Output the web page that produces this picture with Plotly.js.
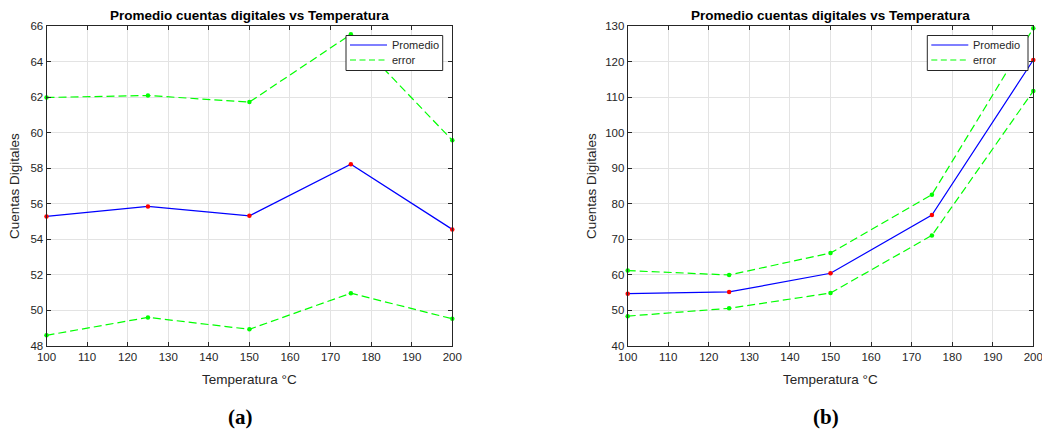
<!DOCTYPE html>
<html>
<head>
<meta charset="utf-8">
<script src="https://cdn.plot.ly/plotly-3.0.1.min.js"></script>
<style>
  html, body { margin: 0; padding: 0; background: #fff; }
  #chart { width: 1042px; height: 431px; }
</style>
</head>
<body>
<div id="chart"></div>
<script>
// Temperatures (°C) shared by both panels
const temps = [100, 125, 150, 175, 200];

// Panel (a): mean digital counts and error band
const promA = [55.29, 55.85, 55.32, 58.22, 54.56];
const errUpA = [61.98, 62.09, 61.72, 65.53, 59.57];
const errLoA = [48.60, 49.61, 48.94, 50.97, 49.53];

// Panel (b): mean digital counts and error band
const promB = [54.72, 55.20, 60.45, 76.85, 120.44];
const errUpB = [61.20, 59.98, 66.15, 82.56, 129.34];
const errLoB = [48.40, 50.60, 54.90, 71.10, 111.70];

const titleText = 'Promedio cuentas digitales vs Temperatura';
const xTitle = 'Temperatura °C';
const yTitle = 'Cuentas Digitales';
const panelLabels = ['(a)', '(b)'];
const legendNames = ['Promedio', 'error'];

const W = 1042, H = 431;
const px = v => v / W;
const py = v => 1 - v / H;

const BLUE = '#0000ff', GREEN = '#00ff00', RED = '#ff0000';
const DASH = '8px,4px';
const SANS = 'Liberation Sans, Arial, Helvetica, sans-serif';

function panelTraces(xa, ya, prom, up, lo) {
  return [
    { x: temps, y: prom, xaxis: xa, yaxis: ya, mode: 'lines', name: legendNames[0],
      line: { color: BLUE, width: 1.2 } },
    { x: temps, y: up, xaxis: xa, yaxis: ya, mode: 'lines', name: legendNames[1],
      line: { color: GREEN, width: 1.2, dash: DASH } },
    { x: temps, y: lo, xaxis: xa, yaxis: ya, mode: 'lines', name: legendNames[1],
      line: { color: GREEN, width: 1.2, dash: DASH } },
    { x: temps, y: prom, xaxis: xa, yaxis: ya, mode: 'markers',
      marker: { color: RED, size: 4.5 }, cliponaxis: false },
    { x: temps.concat(temps), y: up.concat(lo), xaxis: xa, yaxis: ya, mode: 'markers',
      marker: { color: GREEN, size: 4.5 }, cliponaxis: false }
  ];
}

const data = [].concat(
  panelTraces('x', 'y', promA, errUpA, errLoA),
  panelTraces('x2', 'y2', promB, errUpB, errLoB)
);

const axisFont = { family: SANS, size: 11.5, color: '#262626' };
const baseAxis = {
  showline: true, linecolor: '#262626', linewidth: 1, mirror: 'ticks',
  ticks: 'inside', ticklen: 4, tickcolor: '#262626',
  showgrid: true, gridcolor: '#e3e3e3', gridwidth: 1, zeroline: false,
  tickfont: axisFont, fixedrange: true, ticklabeloverflow: 'allow'
};

const yDom = [85 / H, 405 / H];

const labelFont = { family: SANS, size: 13.5, color: '#262626' };
const centers = [249.3, 830.5];
const yLabelX = [14, 591];
const annotations = [];
const shapes = [];

centers.forEach((cx, i) => {
  annotations.push({ text: '<b>' + titleText + '</b>', x: px(cx), y: py(15.5), xref: 'paper', yref: 'paper',
    showarrow: false, xanchor: 'center', yanchor: 'middle',
    font: { family: SANS, size: 13.5, color: '#000' } });
  annotations.push({ text: xTitle, x: px(cx), y: py(379), xref: 'paper', yref: 'paper',
    showarrow: false, xanchor: 'center', yanchor: 'middle', font: labelFont });
  annotations.push({ text: yTitle, x: px(yLabelX[i]), y: py(186), xref: 'paper', yref: 'paper', textangle: -90,
    showarrow: false, xanchor: 'center', yanchor: 'middle', font: labelFont });
  annotations.push({ text: '<b>' + panelLabels[i] + '</b>', x: px(i === 0 ? 240 : 826), y: py(417),
    xref: 'paper', yref: 'paper', showarrow: false, xanchor: 'center', yanchor: 'middle',
    font: { family: 'Liberation Serif, Times New Roman, serif', size: 21, color: '#000' } });
});

// Legend boxes, one per panel (left, right edges in page pixels)
const legendBoxes = [[346, 442.7], [927.3, 1028]];
legendBoxes.forEach(([l, r]) => {
  shapes.push({ type: 'rect', xref: 'paper', yref: 'paper', x0: px(l), x1: px(r), y0: py(70.5), y1: py(35.5),
    line: { color: '#262626', width: 1 }, fillcolor: '#ffffff', layer: 'above' });
  shapes.push({ type: 'line', xref: 'paper', yref: 'paper', x0: px(l + 4), x1: px(l + 41), y0: py(45), y1: py(45),
    line: { color: BLUE, width: 1.2 }, layer: 'above' });
  shapes.push({ type: 'line', xref: 'paper', yref: 'paper', x0: px(l + 4), x1: px(l + 41), y0: py(60), y1: py(60),
    line: { color: GREEN, width: 1.2, dash: '6px,3.5px' }, layer: 'above' });
  annotations.push({ text: legendNames[0], x: px(l + 43.5), y: py(45), xref: 'paper', yref: 'paper',
    showarrow: false, xanchor: 'left', yanchor: 'middle', font: { family: SANS, size: 11, color: '#262626' } });
  annotations.push({ text: legendNames[1], x: px(l + 43.5), y: py(60), xref: 'paper', yref: 'paper',
    showarrow: false, xanchor: 'left', yanchor: 'middle', font: { family: SANS, size: 11, color: '#262626' } });
});

const layout = {
  width: W, height: H,
  margin: { l: 0, r: 0, t: 0, b: 0 },
  paper_bgcolor: '#ffffff', plot_bgcolor: '#ffffff',
  showlegend: false,
  xaxis: Object.assign({}, baseAxis, { domain: [px(46.5), px(452.3)], range: [100, 200], dtick: 10, anchor: 'y' }),
  yaxis: Object.assign({}, baseAxis, { domain: yDom, range: [48, 66], dtick: 2, anchor: 'x' }),
  xaxis2: Object.assign({}, baseAxis, { domain: [px(627.7), px(1033.3)], range: [100, 200], dtick: 10, anchor: 'y2' }),
  yaxis2: Object.assign({}, baseAxis, { domain: yDom, range: [40, 130], dtick: 10, anchor: 'x2' }),
  annotations: annotations,
  shapes: shapes
};

Plotly.newPlot('chart', data, layout, { displayModeBar: false, staticPlot: true });
</script>
</body>
</html>
